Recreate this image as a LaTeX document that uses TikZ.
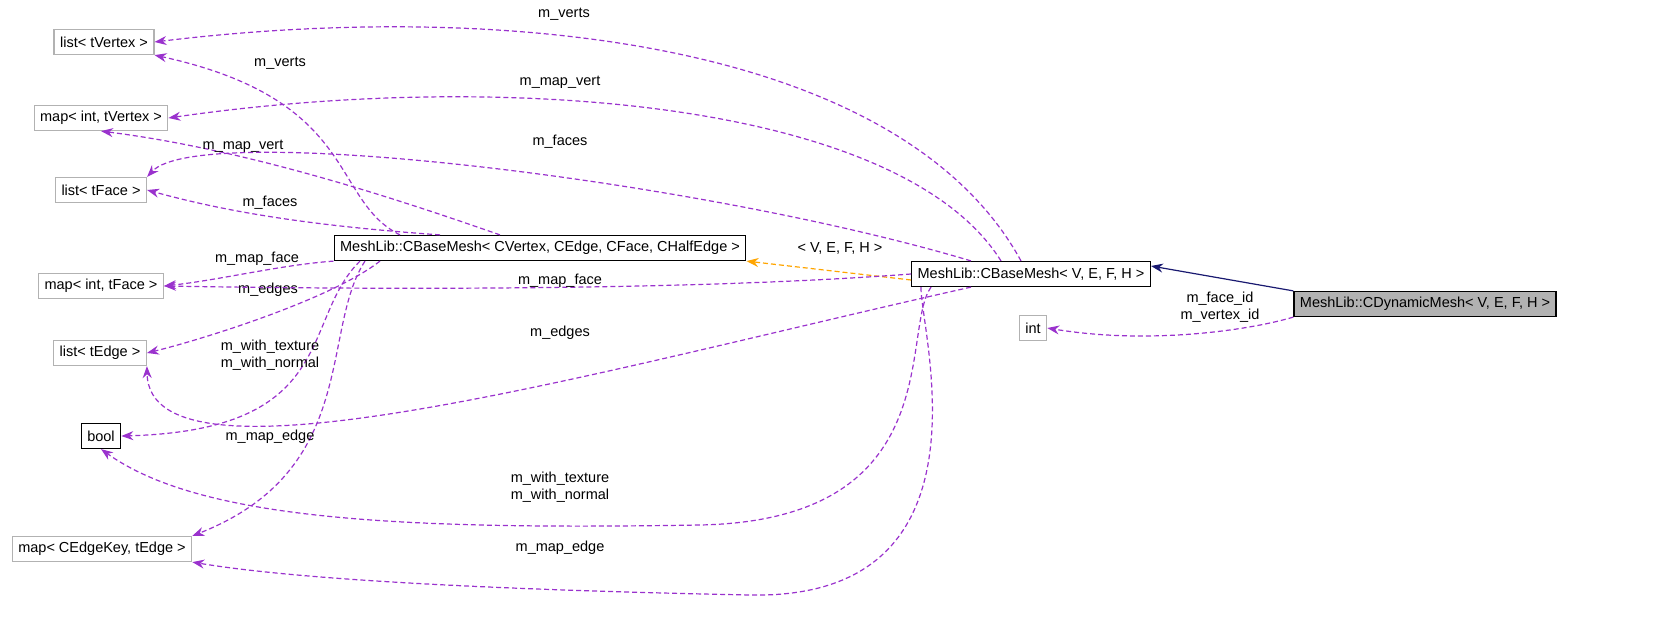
\documentclass[tikz,border=0pt]{standalone}
\usepackage{fontspec}
\setmainfont{Liberation Sans}
\usetikzlibrary{arrows.meta}
\definecolor{member}{HTML}{9A32CD}
\definecolor{navyarr}{HTML}{191970}
\definecolor{tmplarr}{HTML}{FFA500}
\tikzset{
    box/.style={draw=black!30,rectangle,minimum height=25pt,inner xsep=6pt,line width=1.2pt,font=\fontsize{14.5}{17}\selectfont},
    mainbox/.style={box,draw=black},
    lab/.style={font=\fontsize{14.5}{17}\selectfont,align=center,inner sep=0pt},
    uses/.style={draw=member,line width=1.2pt,dash pattern=on 5pt off 3pt,-{Stealth[length=12pt,width=9pt]}},
}
\begin{document}
\begin{tikzpicture}[x=1pt,y=-1pt]
\useasboundingbox (0,0) rectangle (1675,634);
\begin{scope}
    \node (lv) at (104,42) [box] {list< tVertex >};
    \node (mv) at (101,118) [box] {map< int, tVertex >};
    \node (lf) at (101,190) [box] {list< tFace >};
    \node (mf) at (101,286) [box] {map< int, tFace >};
    \node (le) at (100,353) [box] {list< tEdge >};
    \node (bl) at (101,436) [mainbox] {bool};
    \node (me) at (102,549) [box] {map< CEdgeKey, tEdge >};
    \node (cb) at (540,248) [mainbox] {MeshLib::CBaseMesh< CVertex, CEdge, CFace, CHalfEdge >};
    \node (tb) at (1031,274) [mainbox] {MeshLib::CBaseMesh< V, E, F, H >};
    \node (dm) at (1425,304) [mainbox,fill=black!30] {MeshLib::CDynamicMesh< V, E, F, H >};
    \node (in) at (1033,328) [box] {int};
\end{scope}

% inheritance and template
\draw [navyarr,line width=1.2pt,-{Stealth[length=12pt,width=9pt]}] (dm.north west) -- ([yshift=8pt]tb.east);
\draw [tmplarr,line width=1.2pt,dash pattern=on 5pt off 3pt,-{Stealth[length=12pt,width=9pt]}] ([yshift=-6pt]tb.west) -- (cb.south east);
\node (tl) at (840,248) [lab] {< V, E, F, H >};
\draw [uses] (dm.south west) .. controls (1250,330) and (1150,345) .. (in.east);
\node (il) at (1220,307) [lab] {m\_face\_id\\m\_vertex\_id};

% members of CBaseMesh< CVertex, ... >
\draw [uses] ([xshift=-140pt]cb.north) .. controls (330,200) and (360,100) .. (lv.south east);
\node at (280,63) [lab] {m\_verts};
\draw [uses] ([xshift=-40pt]cb.north) .. controls (400,200) and (250,150) .. (mv.south);
\node at (243,146) [lab] {m\_map\_vert};
\draw [uses] ([xshift=-100pt]cb.north) .. controls (300,225) and (220,210) .. (lf.east);
\node at (270,203) [lab] {m\_faces};
\draw [uses] (cb.south west) .. controls (280,265) and (220,280) .. (mf.east);
\node at (257,259) [lab] {m\_map\_face};
\draw [uses] ([xshift=-160pt]cb.south) .. controls (330,300) and (200,340) .. (le.east);
\node at (268,290) [lab] {m\_edges};
\draw [uses] ([xshift=-180pt]cb.south) .. controls (300,320) and (340,430) .. (bl.east);
\node at (270,355) [lab] {m\_with\_texture\\m\_with\_normal};
\draw [uses] ([xshift=-175pt]cb.south) .. controls (320,330) and (360,470) .. (me.north east);
\node at (270,437) [lab] {m\_map\_edge};

% members of CBaseMesh< V, E, F, H >
\draw [uses] ([xshift=-10pt]tb.north) .. controls (900,40) and (500,0) .. (lv.east);
\node at (564,14) [lab] {m\_verts};
\draw [uses] ([xshift=-30pt]tb.north) .. controls (900,100) and (500,70) .. (mv.east);
\node at (560,82) [lab] {m\_map\_vert};
\draw [uses] ([xshift=-60pt]tb.north) .. controls (700,180) and (200,120) .. (lf.north east);
\node at (560,142) [lab] {m\_faces};
\draw [uses] (tb.west) .. controls (700,290) and (400,290) .. (mf.east);
\node at (560,281) [lab] {m\_map\_face};
\draw [uses] ([xshift=-60pt]tb.south) .. controls (600,370) and (150,500) .. (le.south east);
\node at (560,333) [lab] {m\_edges};
\draw [uses] ([xshift=-100pt]tb.south) .. controls (900,330) and (950,520) .. (700,525) .. controls (400,530) and (200,520) .. (bl.south);
\node at (560,487) [lab] {m\_with\_texture\\m\_with\_normal};
\draw [uses] ([xshift=-110pt]tb.south) .. controls (920,330) and (1000,600) .. (750,595) .. controls (500,590) and (300,580) .. (me.south east);
\node at (560,548) [lab] {m\_map\_edge};
\end{tikzpicture}
\end{document}
